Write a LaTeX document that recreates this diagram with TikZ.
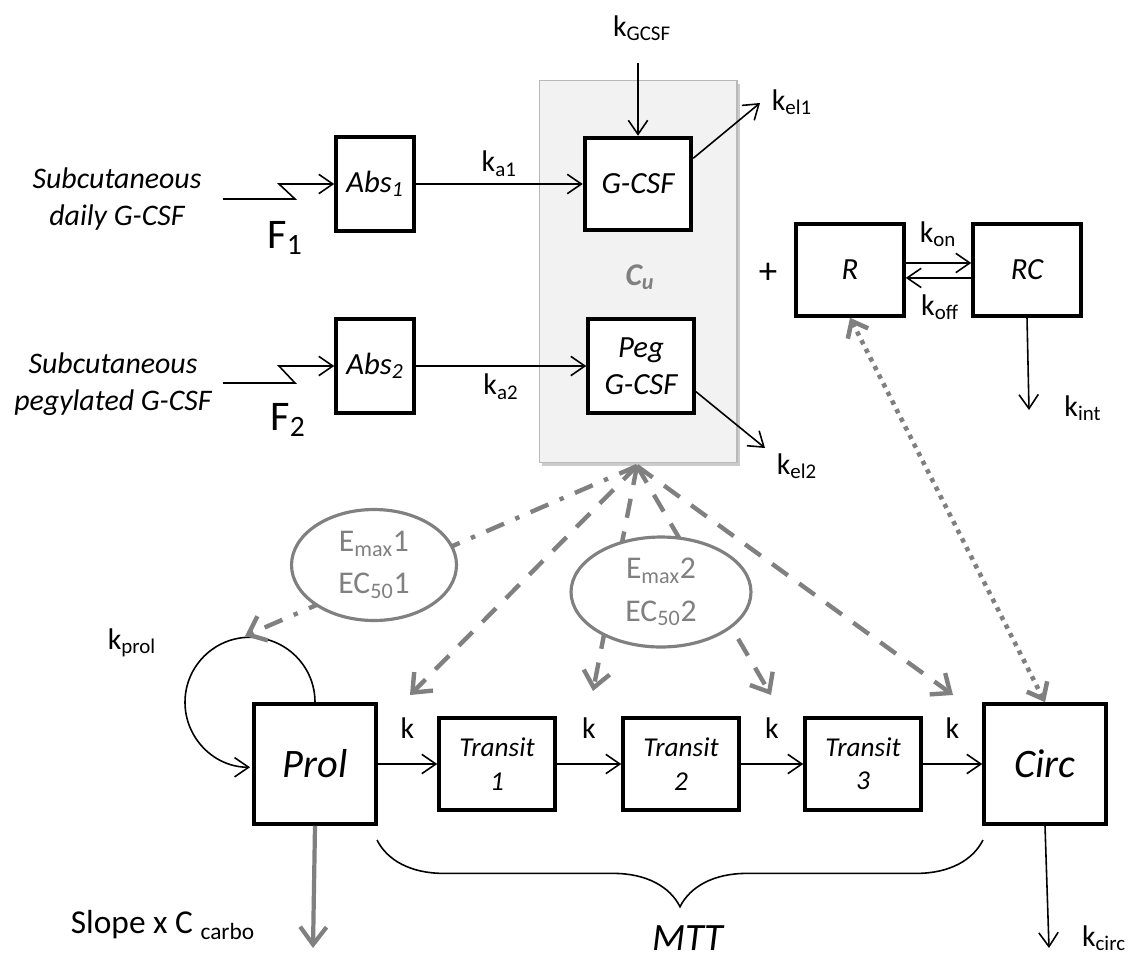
\documentclass[tikz,border=0pt]{standalone}
\usepackage{fontspec}
\setmainfont{Carlito}
\usetikzlibrary{arrows.meta,shapes.geometric,decorations.pathreplacing,shadows}
\definecolor{effgray}{RGB}{128,128,128}
\definecolor{panelfill}{RGB}{242,242,242}
\definecolor{paneledge}{RGB}{185,185,185}
\newcommand{\kk}[1]{k\textsubscript{#1}}
\begin{document}
\begin{tikzpicture}[x=0.02cm,y=0.02cm,>={Straight Barb[length=8pt,width=11pt]},
	cmpt/.style={draw,line width=2.3pt,fill=white,align=center,inner sep=1pt,font=\itshape\fontsize{17.5}{21}\selectfont},
	klabel/.style={inner sep=1pt,font=\fontsize{17}{20}\selectfont},
	flow/.style={->,line width=0.9pt},
	effect/.style={line width=2.5pt,effgray,dash pattern=on 11pt off 8pt,-{Straight Barb[length=9pt,width=15pt]}},
	effectdd/.style={line width=2.5pt,effgray,dash pattern=on 11pt off 7pt on 2.5pt off 7pt,-{Straight Barb[length=9pt,width=15pt]}},
	bind/.style={line width=2.6pt,effgray,dash pattern=on 2.5pt off 3pt,{Straight Barb[length=8pt,width=13pt]}-{Straight Barb[length=8pt,width=13pt]}},
	emax/.style={ellipse,draw=effgray,line width=1.8pt,fill=white,text=effgray,align=center,inner sep=0pt,font=\fontsize{18}{24}\selectfont}]
	\useasboundingbox (0,0) rectangle (1135,-960);

	% central compartment
	\node[draw=paneledge,fill=panelfill,line width=0.6pt,minimum width=3.96cm,minimum height=7.66cm,
		drop shadow={shadow xshift=1.5pt,shadow yshift=-2pt,fill=black!40,opacity=0.5}] (cubox) at (638,-271.5) {};
	\node[text=effgray,font=\bfseries\itshape\fontsize{18}{20}\selectfont] (cu) at (640,-277) {C\textsubscript{u}};
	\coordinate (fan) at (637,-466);

	% boxes
	\node[cmpt,minimum width=1.55cm,minimum height=1.87cm] (abs1) at (375,-184) {Abs\textsubscript{1}};
	\node[cmpt,minimum width=1.55cm,minimum height=1.87cm] (abs2) at (375,-366) {Abs\textsubscript{2}};
	\node[cmpt,minimum width=2.13cm,minimum height=1.85cm] (gcsf) at (638,-184) {G-CSF};
	\node[cmpt,minimum width=2.11cm,minimum height=1.87cm] (peg) at (641,-366) {Peg\\G-CSF};
	\node[cmpt,minimum width=2.15cm,minimum height=1.83cm] (r) at (850,-270) {R};
	\node[cmpt,minimum width=2.15cm,minimum height=1.83cm] (rc) at (1027,-270) {RC};
	\node[cmpt,minimum width=2.43cm,minimum height=2.39cm,font=\itshape\fontsize{23}{26}\selectfont] (prol) at (315,-764) {Prol};
	\node[cmpt,minimum width=2.31cm,minimum height=1.85cm,font=\itshape\fontsize{15.5}{19}\selectfont] (tr1) at (497,-764) {Transit\\1};
	\node[cmpt,minimum width=2.31cm,minimum height=1.85cm,font=\itshape\fontsize{15.5}{19}\selectfont] (tr2) at (681,-764) {Transit\\2};
	\node[cmpt,minimum width=2.31cm,minimum height=1.85cm,font=\itshape\fontsize{15.5}{19}\selectfont] (tr3) at (863,-764) {Transit\\3};
	\node[cmpt,minimum width=2.43cm,minimum height=2.39cm,font=\itshape\fontsize{23}{26}\selectfont] (circ) at (1045,-764) {Circ};

	% doses
	\node[align=center,font=\itshape\fontsize{17}{21}\selectfont] (dose1) at (117,-199) {Subcutaneous\\daily G-CSF};
	\node[align=center,font=\itshape\fontsize{17}{21}\selectfont] (dose2) at (113,-384) {Subcutaneous\\pegylated G-CSF};
	\node[font=\fontsize{24}{26}\selectfont] (f1) at (285,-238) {F\textsubscript{1}};
	\node[font=\fontsize{24}{26}\selectfont] (f2) at (288,-420) {F\textsubscript{2}};
	\coordinate (in1) at (223,-199);
	\coordinate (in2) at (223,-383);
	\draw[flow] (in1) -- ++(72,0) -- ++(-16,15) -- (abs1.west);
	\draw[flow] (in2) -- ++(72,0) -- ++(-16,17) -- (abs2.west);

	% absorption and elimination
	\draw[flow] (abs1) -- (gcsf) node[midway,above=3pt,klabel] {\kk{a1}};
	\draw[flow] (abs2) -- (peg) node[midway,below=3pt,klabel] {\kk{a2}};
	\node[klabel] (kgcsf) at (642,-28) {\kk{GCSF}};
	\coordinate (gin) at (638,-63);
	\draw[flow] (gin) -- (gcsf.north);
	\coordinate (el1) at (760,-103);
	\coordinate (el2) at (765,-448);
	\draw[flow] (gcsf.25) -- (el1);
	\draw[flow] (peg.-25) -- (el2);
	\node[klabel] (kel1) at (792,-102) {\kk{el1}};
	\node[klabel] (kel2) at (797,-466) {\kk{el2}};

	% receptor binding
	\node[font=\fontsize{21}{22}\selectfont] (plus) at (768,-273) {+};
	\draw[flow] ([yshift=4pt]r.east) -- ([yshift=4pt]rc.west);
	\draw[flow] ([yshift=-4.5pt]rc.west) -- ([yshift=-4.5pt]r.east);
	\node[klabel] (kon) at (938,-234) {\kk{on}};
	\node[klabel] (koff) at (940,-307) {\kk{off}};
	\coordinate (intout) at (1029,-410);
	\draw[flow] (rc.south) -- (intout);
	\node[klabel] (kint) at (1083,-408) {\kk{int}};

	% maturation chain
	\draw[flow] (prol) -- (tr1) node[midway,above=13pt,klabel] {k};
	\draw[flow] (tr1) -- (tr2) node[midway,above=13pt,klabel] {k};
	\draw[flow] (tr2) -- (tr3) node[midway,above=13pt,klabel] {k};
	\draw[flow] (tr3) -- (circ) node[midway,above=13pt,klabel] {k};
	\draw[flow] (prol.north) arc[start angle=0,end angle=270,radius=65];
	\node[klabel] (kprol) at (132,-643) {\kk{prol}};
	\coordinate (slopeout) at (313,-948);
	\draw[line width=2.4pt,effgray,-{Straight Barb[length=10pt,width=15pt]}] (prol.south) -- (slopeout);
	\node[font=\fontsize{19}{22}\selectfont] (slope) at (163,-925) {Slope x C \textsubscript{carbo}};
	\coordinate (circout) at (1049,-948);
	\draw[flow] (circ.south) -- (circout);
	\node[klabel] (kcirc) at (1104,-938) {\kk{circ}};
	\coordinate (mttR) at (983,-840);
	\coordinate (mttL) at (377,-840);
	\draw[line width=0.9pt,decorate,decoration={brace,amplitude=38pt,aspect=0.5}] (mttR) -- (mttL);
	\node[font=\itshape\fontsize{22}{26}\selectfont] (mtt) at (688,-938) {MTT};

	% drug effects
	\coordinate (looptop) at (245,-636);
	\coordinate (hit1) at (410,-695);
	\coordinate (hit2) at (593,-691);
	\coordinate (hit3) at (771,-695);
	\coordinate (hit4) at (953,-695);
	\draw[effectdd] (fan) -- (looptop);
	\draw[effect] (fan) -- (hit1);
	\draw[effect] (fan) -- (hit2);
	\draw[effect] (fan) -- (hit3);
	\draw[effect] (fan) -- (hit4);
	\draw[bind] (r.south) -- (circ.north);
	\node[emax,minimum width=3.3cm,minimum height=2.22cm] (emax1) at (374,-565) {E\textsubscript{max}1\\EC\textsubscript{50}1};
	\node[emax,minimum width=3.6cm,minimum height=2.2cm] (emax2) at (661,-592) {E\textsubscript{max}2\\EC\textsubscript{50}2};
\end{tikzpicture}
\end{document}
